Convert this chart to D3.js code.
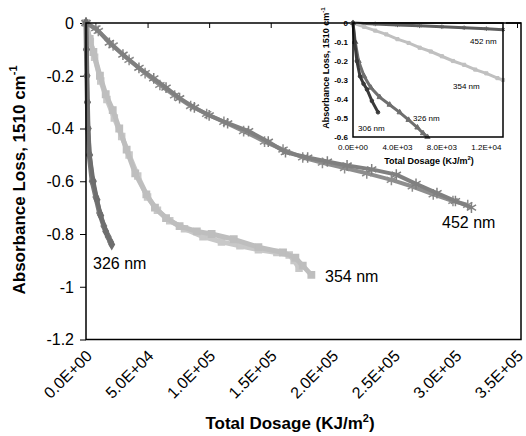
<html>
<head>
  <title>Absorbance Loss</title>
  <script src='https://d3js.org/d3.v7.min.js'></script>
</head>
<style type="text/css">
body { margin: 0; background: #fff; }
text { font-family: Arial, "Liberation Sans", sans-serif; }
.tick-label { font-size: 16px; }
.title { font-size: 17px; font-weight: bold; }
.inset-label { font-size: 8px; }
.inset-title { font-size: 9px; font-weight: bold; }
</style>
<body>
<script>

// main chart data, [dosage KJ/m2, absorbance loss]
var s326a = [[0,0],[400,-0.1],[800,-0.2],[1200,-0.3],[1800,-0.4],[3000,-0.5],[6000,-0.6],[9000,-0.67],[12000,-0.73],[16000,-0.79],[20900,-0.84]];
var s326b = [[0,0],[300,-0.1],[700,-0.2],[1100,-0.3],[1600,-0.4],[2600,-0.5],[5000,-0.6],[8000,-0.66],[11000,-0.72],[14500,-0.77],[18000,-0.81],[20000,-0.83]];

var s354a = [[0,0],[3000,-0.06],[6000,-0.11],[11300,-0.2],[16000,-0.27],[21700,-0.33],[27000,-0.4],[33000,-0.48],[40000,-0.57],[49000,-0.65],[56000,-0.7],[65000,-0.74],[76000,-0.77],[90000,-0.79],[102000,-0.8],[120000,-0.82],[140000,-0.85],[160000,-0.87],[170000,-0.89],[176000,-0.92],[183000,-0.955]];
var s354b = [[0,0],[3500,-0.07],[7000,-0.13],[12000,-0.22],[17000,-0.29],[23000,-0.36],[29000,-0.43],[35000,-0.5],[42000,-0.58],[50000,-0.66],[58000,-0.71],[68000,-0.75],[80000,-0.78],[95000,-0.81],[110000,-0.83],[125000,-0.845],[140000,-0.86],[155000,-0.87],[165000,-0.88],[169000,-0.9],[173000,-0.93]];

var s452a = [[0,0],[8000,-0.02],[19000,-0.075],[30000,-0.12],[43000,-0.17],[55000,-0.21],[65000,-0.245],[76000,-0.285],[88000,-0.32],[100000,-0.35],[115000,-0.38],[132000,-0.41],[148000,-0.45],[162000,-0.49],[180000,-0.51],[196000,-0.525],[212000,-0.54],[232000,-0.555],[252000,-0.575],[268000,-0.61],[285000,-0.645],[300000,-0.675],[313000,-0.70]];
var s452b = [[0,0],[10000,-0.03],[22000,-0.085],[35000,-0.14],[48000,-0.19],[60000,-0.235],[72000,-0.275],[85000,-0.315],[98000,-0.345],[112000,-0.375],[128000,-0.41],[145000,-0.45],[160000,-0.48],[176000,-0.51],[192000,-0.53],[210000,-0.55],[228000,-0.57],[248000,-0.595],[265000,-0.62],[282000,-0.65],[298000,-0.675],[310000,-0.69]];

// inset data
var i306 = [[0,0],[150,-0.1],[350,-0.2],[630,-0.28],[950,-0.32],[1260,-0.35],[1700,-0.41],[2250,-0.47]];
var i326 = [[0,0],[200,-0.1],[500,-0.2],[1000,-0.28],[1600,-0.34],[2400,-0.39],[3300,-0.43],[4200,-0.47],[5000,-0.51],[5800,-0.55],[6300,-0.58],[6700,-0.6]];
var i354 = [[0,0],[1000,-0.02],[2000,-0.04],[3000,-0.06],[4000,-0.085],[5000,-0.105],[6000,-0.13],[7000,-0.15],[8000,-0.175],[9000,-0.2],[10000,-0.22],[11000,-0.245],[12000,-0.265],[13000,-0.29],[13500,-0.3]];
var i452 = [[0,0],[2000,-0.005],[4000,-0.01],[6000,-0.015],[8000,-0.02],[10000,-0.025],[12000,-0.03],[13500,-0.035]];

var xTicks = [0, 50000, 100000, 150000, 200000, 250000, 300000, 350000];
var xTickLabels = ["0.0E+00","5.0E+04","1.0E+05","1.5E+05","2.0E+05","2.5E+05","3.0E+05","3.5E+05"];
var yTicks = [0, -0.2, -0.4, -0.6, -0.8, -1, -1.2];
var yTickLabels = ["0","-0.2","-0.4","-0.6","-0.8","-1","-1.2"];

var ixTicks = [0, 4000, 8000, 12000];
var ixTickLabels = ["0.0E+00","4.0E+03","8.0E+03","1.2E+04"];
var iyTicks = [0, -0.1, -0.2, -0.3, -0.4, -0.5, -0.6];
var iyTickLabels = ["0","-0.1","-0.2","-0.3","-0.4","-0.5","-0.6"];

var width = 526,
    height = 436;

var x = d3.scaleLinear().domain([0, 350000]).range([86, 517]),
    y = d3.scaleLinear().domain([-1.2, 0]).range([339.5, 23]);

var xi = d3.scaleLinear().domain([0, 13500]).range([353, 503]),
    yi = d3.scaleLinear().domain([-0.6, 0]).range([137, 23]);

var svg = d3.select('body')
          .append('svg')
          .attr('width', width)
          .attr('height', height);

// ---- main chart ----
svg.append('g')
   .attr('transform', 'translate(86,0)')
   .call(d3.axisLeft(y).tickValues(yTicks).tickSize(6).tickFormat(''))
   .call(function(g) { g.select('.domain').remove(); })
   .selectAll('line').attr('stroke', '#000').attr('stroke-width', 1);

svg.append('g')
   .attr('transform', 'translate(0,23)')
   .call(d3.axisBottom(x).tickValues(xTicks).tickSize(5).tickFormat(''))
   .call(function(g) { g.select('.domain').remove(); })
   .selectAll('line').attr('stroke', '#000').attr('stroke-width', 1);

svg.selectAll('.ylab')
   .data(yTicks)
   .enter().append('text')
   .attr('class', 'tick-label')
   .attr('x', 74)
   .attr('y', function(d) { return y(d); })
   .attr('dy', '0.36em')
   .attr('text-anchor', 'end')
   .text(function(d, i) { return yTickLabels[i]; });

svg.selectAll('.xlab')
   .data(xTicks)
   .enter().append('text')
   .attr('class', 'tick-label')
   .attr('transform', function(d) { return 'translate(' + (x(d) + 3) + ',353)rotate(-45)'; })
   .attr('dy', '0.36em')
   .attr('text-anchor', 'end')
   .text(function(d, i) { return xTickLabels[i]; });

var line = d3.line()
    .x(function(d) { return x(d[0]); })
    .y(function(d) { return y(d[1]); });

var mainSeries = [
  {data: s354b, color: '#c8c8c8', symbol: d3.symbolSquare, size: 36, w: 5},
  {data: s354a, color: '#bebebe', symbol: d3.symbolSquare, size: 40, w: 5},
  {data: s452b, color: '#8e8e8e', symbol: d3.symbolAsterisk, size: 80, w: 4},
  {data: s452a, color: '#808080', symbol: d3.symbolAsterisk, size: 80, w: 4},
  {data: s326b, color: '#7a7a7a', symbol: d3.symbolDiamond, size: 24, w: 5},
  {data: s326a, color: '#6e6e6e', symbol: d3.symbolDiamond, size: 24, w: 4}
];

mainSeries.forEach(function(s) {
  svg.append('path')
     .datum(s.data)
     .attr('d', line)
     .attr('fill', 'none')
     .attr('stroke', s.color)
     .attr('stroke-width', s.w)
     .attr('stroke-linejoin', 'round');

  svg.selectAll(null)
     .data(s.data)
     .enter().append('path')
     .attr('transform', function(d) { return 'translate(' + x(d[0]) + ',' + y(d[1]) + ')'; })
     .attr('d', d3.symbol().type(s.symbol).size(s.size))
     .attr('fill', s.symbol === d3.symbolAsterisk ? 'none' : s.color)
     .attr('stroke', s.color)
     .attr('stroke-width', 1.5);
});

svg.append('rect')
   .attr('x', 86)
   .attr('y', 23)
   .attr('width', 521 - 86)
   .attr('height', 339.5 - 23)
   .attr('fill', 'none')
   .attr('stroke', '#000')
   .attr('stroke-width', 1.5);

svg.append('text').attr('class', 'tick-label').attr('x', 93).attr('y', 269).text('326 nm');
svg.append('text').attr('class', 'tick-label').attr('x', 325).attr('y', 282).text('354 nm');
svg.append('text').attr('class', 'tick-label').attr('x', 442).attr('y', 228).text('452 nm');

var xt = svg.append('text')
   .attr('class', 'title')
   .attr('x', 290)
   .attr('y', 429)
   .attr('text-anchor', 'middle');
xt.append('tspan').text('Total Dosage (KJ/m');
xt.append('tspan').attr('dy', -7).attr('font-size', 11).text('2');
xt.append('tspan').attr('dy', 7).text(')');

var yt = svg.append('text')
   .attr('class', 'title')
   .attr('font-size', 18)
   .attr('transform', 'translate(25,180)rotate(-90)')
   .attr('text-anchor', 'middle');
yt.append('tspan').text('Absorbance Loss, 1510 cm');
yt.append('tspan').attr('dy', -8).attr('font-size', 11).text('-1');

// ---- inset ----
svg.append('rect')
   .attr('x', 318)
   .attr('y', 0)
   .attr('width', 188)
   .attr('height', 154)
   .attr('fill', '#fff');

svg.append('line')
   .attr('x1', 318).attr('x2', 521)
   .attr('y1', 23).attr('y2', 23)
   .attr('stroke', '#000').attr('stroke-width', 1.5);

var iline = d3.line()
    .x(function(d) { return xi(d[0]); })
    .y(function(d) { return yi(d[1]); });

var insetSeries = [
  {data: i452, color: '#5e5e5e', symbol: d3.symbolAsterisk, size: 14},
  {data: i354, color: '#c0c0c0', symbol: d3.symbolSquare, size: 10},
  {data: i326, color: '#6f6f6f', symbol: d3.symbolTriangle, size: 12},
  {data: i306, color: '#3a3a3a', symbol: d3.symbolCircle, size: 10}
];

insetSeries.forEach(function(s) {
  svg.append('path')
     .datum(s.data)
     .attr('d', iline)
     .attr('fill', 'none')
     .attr('stroke', s.color)
     .attr('stroke-width', 3);

  svg.selectAll(null)
     .data(s.data)
     .enter().append('path')
     .attr('transform', function(d) { return 'translate(' + xi(d[0]) + ',' + yi(d[1]) + ')'; })
     .attr('d', d3.symbol().type(s.symbol).size(s.size))
     .attr('fill', s.color)
     .attr('stroke', s.color);
});

svg.append('rect')
   .attr('x', 353)
   .attr('y', 23)
   .attr('width', 150)
   .attr('height', 114)
   .attr('fill', 'none')
   .attr('stroke', '#000')
   .attr('stroke-width', 1.5);

svg.selectAll('.iylab')
   .data(iyTicks)
   .enter().append('text')
   .attr('class', 'inset-label')
   .attr('font-size', 9)
   .attr('font-weight', 'bold')
   .attr('x', 348)
   .attr('y', function(d) { return yi(d); })
   .attr('dy', '0.36em')
   .attr('text-anchor', 'end')
   .text(function(d, i) { return iyTickLabels[i]; });

svg.selectAll('.ixlab')
   .data(ixTicks)
   .enter().append('text')
   .attr('class', 'inset-label')
   .attr('x', function(d) { return xi(d); })
   .attr('y', 150)
   .attr('text-anchor', 'middle')
   .text(function(d, i) { return ixTickLabels[i]; });

var ixt = svg.append('text')
   .attr('class', 'inset-title')
   .attr('x', 429)
   .attr('y', 164)
   .attr('text-anchor', 'middle');
ixt.append('tspan').text('Total Dosage (KJ/m');
ixt.append('tspan').attr('dy', -4).attr('font-size', 6).text('2');
ixt.append('tspan').attr('dy', 4).text(')');

var iyt = svg.append('text')
   .attr('class', 'inset-title')
   .attr('transform', 'translate(329,68)rotate(-90)')
   .attr('text-anchor', 'middle');
iyt.append('tspan').text('Absorbance Loss, 1510 cm');
iyt.append('tspan').attr('dy', -4).attr('font-size', 6).text('-1');

svg.append('text').attr('class', 'inset-label').attr('font-size', 9).attr('x', 470).attr('y', 44).text('452 nm');
svg.append('text').attr('class', 'inset-label').attr('font-size', 9).attr('x', 453).attr('y', 89).text('354 nm');
svg.append('text').attr('class', 'inset-label').attr('font-size', 9).attr('x', 413).attr('y', 121).text('326 nm');
svg.append('text').attr('class', 'inset-label').attr('font-size', 9).attr('x', 358).attr('y', 131).text('306 nm');

</script>
</body>
</html>
